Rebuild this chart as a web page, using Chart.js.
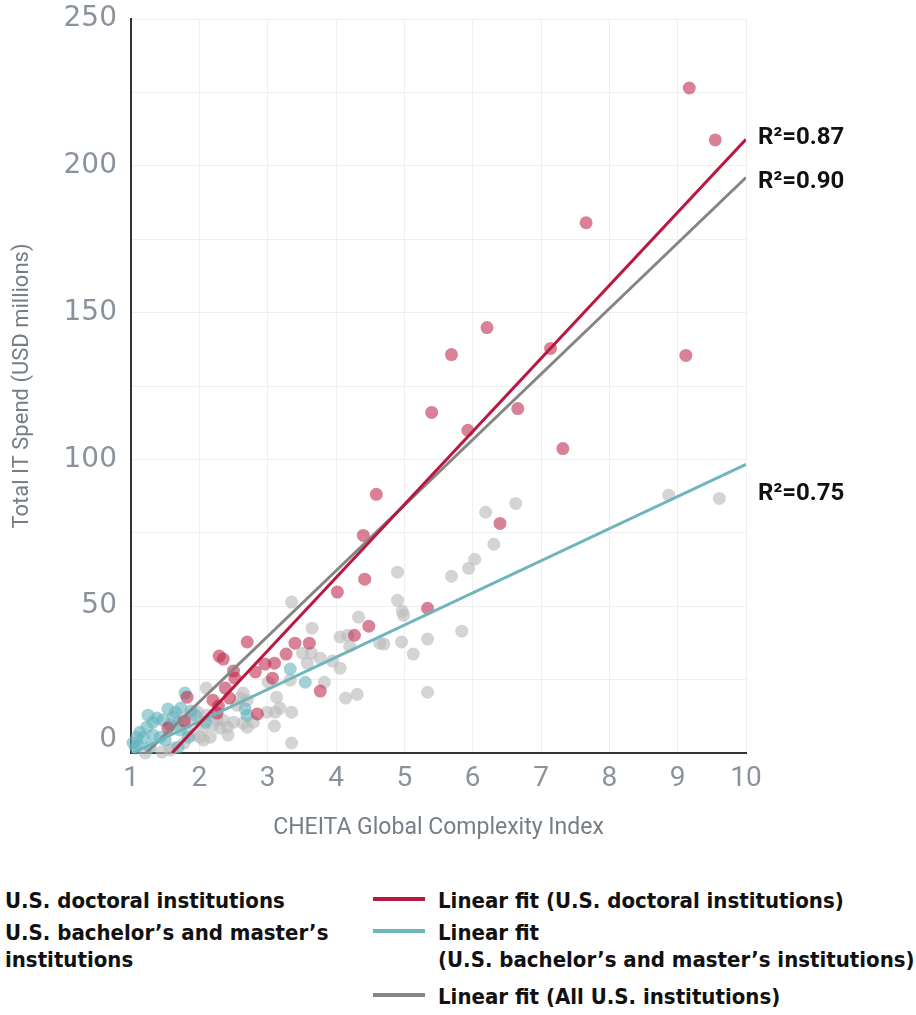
<!DOCTYPE html>
<html>
<head>
<meta charset="utf-8">
<script src="https://cdn.jsdelivr.net/npm/chart.js@4.4.1/dist/chart.umd.min.js"></script>
<style>
  body { margin: 0; background: #fff; width: 916px; height: 1015px; position: relative; overflow: hidden; }
  #wrap { position: absolute; left: 0; top: 0; width: 916px; height: 860px; }
  .lg { position: absolute; font-family: "DejaVu Sans Condensed", "Liberation Sans Narrow", sans-serif;
        font-weight: bold; font-size: 22px; line-height: 27px; color: #111; white-space: nowrap; }
  .sw { position: absolute; width: 52px; height: 4px; }
</style>
</head>
<body>
<div id="wrap"><canvas id="c" width="916" height="860"></canvas></div>

<div class="lg" style="left:5px;top:887px">U.S. doctoral institutions</div>
<div class="lg" style="left:5px;top:919px">U.S. bachelor’s and master’s<br>institutions</div>

<div class="sw" style="left:373px;top:897px;background:#b8193f"></div>
<div class="lg" style="left:438px;top:887px">Linear fit (U.S. doctoral institutions)</div>
<div class="sw" style="left:373px;top:929px;background:#6fb5bc"></div>
<div class="lg" style="left:438px;top:919px">Linear fit<br>(U.S. bachelor’s and master’s institutions)</div>
<div class="sw" style="left:373px;top:993px;background:#858585"></div>
<div class="lg" style="left:438px;top:983px">Linear fit (All U.S. institutions)</div>

<script>
// values: [complexity index, IT spend in USD millions]
const doctoral = [
  [9.17, 226.5], [9.55, 208.8], [7.66, 180.6], [6.21, 144.9], [5.69, 135.7], [7.14, 137.8],
  [9.12, 135.4], [5.40, 116.0], [5.93, 109.9], [6.66, 117.3], [7.32, 103.7], [4.59, 88.1],
  [6.40, 78.2], [4.40, 74.1], [4.42, 59.2], [4.02, 54.8], [5.34, 49.3], [4.48, 43.2],
  [4.27, 40.1], [3.61, 37.4], [3.40, 37.4], [2.70, 37.8], [2.29, 33.0], [2.35, 32.0],
  [3.27, 33.7], [2.96, 30.3], [3.10, 30.6], [2.50, 27.9], [2.52, 25.5], [2.82, 27.6],
  [3.07, 25.5], [2.38, 22.1], [2.44, 18.7], [2.20, 18.0], [2.28, 16.0], [2.26, 13.6],
  [1.82, 19.0], [3.77, 21.1], [2.85, 13.3], [1.78, 10.9], [1.54, 8.5]
];
const bachelorMaster = [
  [3.33, 28.6], [3.55, 24.1], [1.79, 20.4], [2.67, 15.0], [2.70, 12.9], [1.54, 15.0],
  [1.73, 15.3], [1.88, 14.3], [1.32, 10.5], [1.47, 11.2], [1.62, 12.2], [1.23, 8.8],
  [1.13, 7.1], [1.09, 5.4], [1.03, 3.4], [1.18, 5.1], [1.32, 6.1], [1.43, 5.4],
  [1.28, 2.0], [1.84, 5.4], [1.69, 2.0], [1.57, 9.5], [1.38, 11.9], [1.72, 7.8],
  [1.50, 4.4], [1.10, 2.7], [1.94, 12.9], [1.25, 12.9], [2.09, 10.5], [1.65, 13.9],
  [1.07, 1.7]
];
const otherInstitutions = [
  [8.87, 87.8], [9.61, 86.7], [6.63, 85.0], [6.19, 82.0], [6.31, 71.1], [6.03, 66.0],
  [5.94, 62.9], [5.69, 60.2], [4.90, 61.6], [4.90, 52.0], [4.97, 48.3], [4.99, 46.9],
  [4.33, 46.3], [3.65, 42.5], [5.84, 41.5], [5.34, 38.8], [4.96, 37.8], [4.64, 37.4],
  [4.70, 37.1], [4.06, 39.5], [4.17, 40.1], [4.20, 36.4], [5.13, 33.7], [3.77, 32.3],
  [3.95, 31.3], [4.06, 28.9], [3.83, 24.1], [3.35, 51.4], [5.34, 20.7], [4.31, 20.0],
  [4.14, 18.7], [3.35, 3.4], [3.51, 34.0], [3.58, 30.6], [3.64, 34.0], [3.33, 24.8],
  [3.13, 19.0], [3.01, 24.1], [3.18, 15.3], [3.35, 13.9], [3.11, 13.9], [2.99, 13.9],
  [3.10, 9.2], [2.42, 6.1], [2.64, 20.4], [2.60, 18.7], [2.55, 16.3], [2.70, 18.0],
  [2.10, 22.1], [1.98, 13.9], [2.11, 12.9], [2.26, 11.2], [2.35, 11.2], [2.41, 8.8],
  [2.06, 8.8], [2.20, 9.5], [2.30, 8.5], [2.50, 10.5], [2.64, 10.2], [2.79, 10.5],
  [2.70, 8.8], [2.01, 5.4], [2.16, 5.4], [2.06, 4.4], [1.78, 3.4], [1.62, 1.7],
  [1.57, 1.0], [1.45, 0.3], [1.21, 0.0], [1.82, 7.8], [1.91, 6.1], [1.87, 11.2],
  [1.69, 10.2]
];

// fit line end points
const doctoralFit = [[1.6, 0], [10, 209]];
const bachelorFit = [[1.02, 0], [10, 98.3]];
const allFit = [[1.22, 0], [10, 196]];
const fitLabels = ['R²=0.87', 'R²=0.75', 'R²=0.90'];

const yTicks = [50, 100, 150, 200, 250];

const toXY = arr => arr.map(([x, y]) => ({ x, y }));

const TICK_GRAY = '#8a939d';
const TITLE_GRAY = '#767d85';

// R² labels at the line ends, plus the "0" label lifted off the axis
const annotations = {
  id: 'annotations',
  afterDraw(chart) {
    const { ctx, scales: { x, y } } = chart;
    ctx.save();
    ctx.font = 'bold 24px Roboto, sans-serif';
    ctx.fillStyle = '#111';
    ctx.textBaseline = 'middle';
    ctx.textAlign = 'left';
    const ends = [doctoralFit[1], bachelorFit[1], allFit[1]];
    const dy = [-1, 30, 4];
    ends.forEach((p, i) => {
      ctx.fillText(fitLabels[i], x.getPixelForValue(p[0]) + 12, y.getPixelForValue(p[1]) + dy[i]);
    });
    ctx.font = '28px "DejaVu Sans", sans-serif';
    ctx.fillStyle = TICK_GRAY;
    ctx.textAlign = 'right';
    ctx.fillText('0', x.left - 14, y.getPixelForValue(0) - 13);
    ctx.restore();
  }
};

const pointStyle = color => ({
  backgroundColor: color,
  borderWidth: 0,
  pointRadius: 6.5,
  pointHoverRadius: 6.5,
  clip: false
});
const lineStyle = color => ({
  showLine: true,
  borderColor: color,
  borderWidth: 3,
  pointRadius: 0,
  fill: false
});

new Chart(document.getElementById('c'), {
  type: 'scatter',
  data: {
    datasets: [
      { label: 'Linear fit (U.S. doctoral institutions)', data: toXY(doctoralFit), order: 0, ...lineStyle('#b8193f') },
      { label: 'Linear fit (U.S. bachelor’s and master’s institutions)', data: toXY(bachelorFit), order: 0, ...lineStyle('#6fb5bc') },
      { label: 'Linear fit (All U.S. institutions)', data: toXY(allFit), order: 0, ...lineStyle('#858585') },
      { label: 'U.S. doctoral institutions', data: toXY(doctoral), order: 1, ...pointStyle('rgba(190, 40, 75, 0.58)') },
      { label: 'U.S. bachelor’s and master’s institutions', data: toXY(bachelorMaster), order: 2, ...pointStyle('rgba(100, 180, 188, 0.6)') },
      { label: 'Other U.S. institutions', data: toXY(otherInstitutions), order: 3, ...pointStyle('rgba(185, 185, 185, 0.62)') }
    ]
  },
  options: {
    responsive: false,
    animation: false,
    events: [],
    layout: { padding: { top: 19, right: 170, left: 0, bottom: 0 } },
    plugins: {
      legend: { display: false },
      tooltip: { enabled: false }
    },
    scales: {
      x: {
        type: 'linear',
        min: 1,
        max: 10,
        ticks: {
          stepSize: 1,
          color: TICK_GRAY,
          padding: 9,
          font: { family: 'Roboto, sans-serif', size: 28 }
        },
        grid: { color: '#efefef', drawTicks: false },
        border: { color: '#333', width: 2 },
        title: {
          display: true,
          text: 'CHEITA Global Complexity Index',
          color: TITLE_GRAY,
          font: { family: 'Roboto, sans-serif', size: 23 },
          padding: { top: 0, bottom: 18 }
        },
        afterFit: s => { s.height = 107; }
      },
      y: {
        min: 0,
        max: 250,
        ticks: {
          stepSize: 25,
          color: TICK_GRAY,
          padding: 14,
          font: { family: '"DejaVu Sans", sans-serif', size: 28 },
          callback: v => (yTicks.includes(v) ? v : '')
        },
        grid: { color: '#efefef', drawTicks: false },
        border: { color: '#333', width: 2 },
        title: {
          display: true,
          text: 'Total IT Spend (USD millions)',
          color: TITLE_GRAY,
          font: { family: 'Roboto, sans-serif', size: 22 },
          padding: { top: 9, bottom: 0 }
        },
        afterFit: s => { s.width = 131; s.paddingTop = 0; s.paddingBottom = 0; }
      }
    }
  },
  plugins: [annotations]
});
</script>
</body>
</html>
